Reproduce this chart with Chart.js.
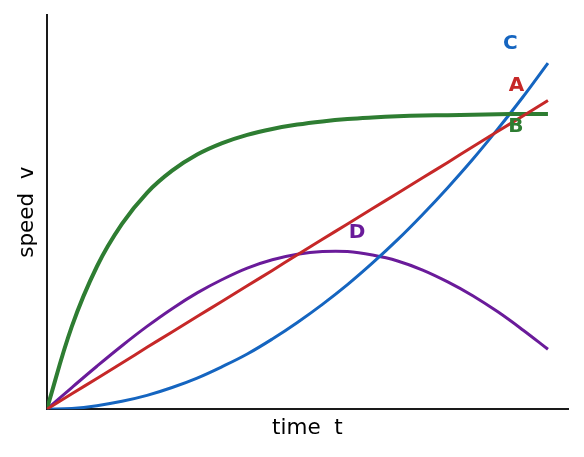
<!DOCTYPE html>
<html>
<head>
<meta charset="utf-8">
<script src="https://cdn.jsdelivr.net/npm/chart.js@4.4.1/dist/chart.umd.min.js"></script>
<style>
  html, body { margin: 0; padding: 0; background: #fff; }
  #wrap { width: 584px; height: 457px; }
</style>
</head>
<body>
<div id="wrap"><canvas id="chart"></canvas></div>
<script>
// time samples
const times = [0, 0.5, 1, 1.5, 2, 2.5, 3, 3.5, 4, 4.5, 5, 5.5, 6, 6.5, 7, 7.5, 8, 8.5, 9, 9.5, 10];

// speed values
const speedA = [0, 0.39, 0.78, 1.17, 1.57, 1.96, 2.35, 2.74, 3.13, 3.52, 3.92, 4.31, 4.70, 5.09, 5.48, 5.87, 6.26, 6.66, 7.05, 7.44, 7.83];
const speedB = [0, 2.10, 3.62, 4.70, 5.49, 6.05, 6.46, 6.75, 6.96, 7.11, 7.22, 7.30, 7.36, 7.40, 7.43, 7.45, 7.46, 7.47, 7.48, 7.49, 7.49];
const speedC = [0, 0.02, 0.09, 0.20, 0.35, 0.55, 0.79, 1.08, 1.40, 1.78, 2.20, 2.66, 3.16, 3.71, 4.30, 4.94, 5.62, 6.34, 7.11, 7.92, 8.78];
const speedD = [0, 0.55, 1.09, 1.61, 2.10, 2.55, 2.95, 3.29, 3.58, 3.79, 3.93, 4.00, 4.00, 3.91, 3.76, 3.53, 3.23, 2.88, 2.47, 2.01, 1.52];

const seriesNames = ['A', 'B', 'C', 'D'];

// where the letter tags sit, in data units
const tagSpots = [
    { name: 'C', t: 9.25, v: 9.28 },
    { name: 'A', t: 9.37, v: 8.20 },
    { name: 'B', t: 9.36, v: 7.16 },
    { name: 'D', t: 6.19, v: 4.48 }
];

const colors = { A: '#c62828', B: '#2e7d32', C: '#1565c0', D: '#6a1b9a' };
const widths = { A: 3, B: 4, C: 3, D: 3 };
const FONT = "'DejaVu Sans', sans-serif";

function pts(vals) {
    return times.map((t, i) => ({ x: t, y: vals[i] }));
}

const allVals = { A: speedA, B: speedB, C: speedC, D: speedD };

const tagPlugin = {
    id: 'tags',
    afterDatasetsDraw(chart) {
        const { ctx, scales } = chart;
        ctx.save();
        ctx.font = "bold 20px " + FONT;
        ctx.textAlign = 'center';
        ctx.textBaseline = 'middle';
        tagSpots.forEach(tag => {
            ctx.fillStyle = colors[tag.name];
            ctx.fillText(tag.name, scales.x.getPixelForValue(tag.t), scales.y.getPixelForValue(tag.v));
        });
        ctx.restore();
    }
};

const ctx = document.getElementById('chart').getContext('2d');
new Chart(ctx, {
    type: 'line',
    data: {
        datasets: seriesNames.map(n => ({
            label: n,
            data: pts(allVals[n]),
            borderColor: colors[n],
            borderWidth: widths[n],
            pointRadius: 0,
            fill: false,
            tension: 0.4
        }))
    },
    options: {
        responsive: true,
        maintainAspectRatio: false,
        animation: false,
        layout: { padding: { left: 12, right: 16, top: 15, bottom: 16 } },
        plugins: {
            legend: { display: false },
            tooltip: { enabled: false }
        },
        scales: {
            x: {
                type: 'linear',
                min: 0,
                max: 10.4,
                grid: { display: false, drawTicks: false },
                border: { display: true, color: '#1a1a1a', width: 2 },
                ticks: { display: false },
                title: {
                    display: true,
                    text: 'time  t',
                    color: '#000',
                    font: { family: FONT, size: 21.5 },
                    padding: { top: 6, bottom: 0 }
                }
            },
            y: {
                type: 'linear',
                min: 0,
                max: 10,
                grid: { display: false, drawTicks: false },
                border: { display: true, color: '#1a1a1a', width: 2 },
                ticks: { display: false },
                title: {
                    display: true,
                    text: 'speed  v',
                    color: '#000',
                    font: { family: FONT, size: 21.5 },
                    padding: { top: 3, bottom: 6 }
                }
            }
        }
    },
    plugins: [tagPlugin]
});
</script>
</body>
</html>
